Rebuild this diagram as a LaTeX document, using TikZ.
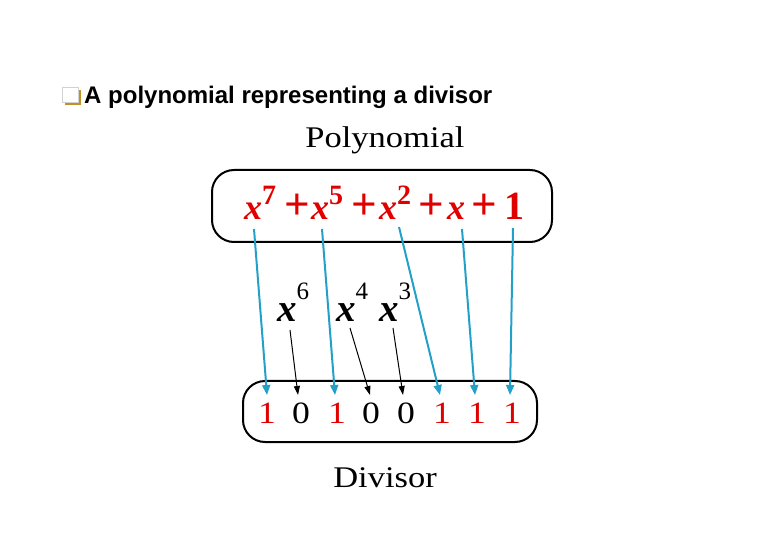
\documentclass[tikz,border=0pt]{standalone}
\usepackage{fontspec}
\setmainfont{Liberation Serif}[FakeStretch=1.15]
\newfontfamily\plainserif{Liberation Serif}
\newfontfamily\hdrfont{Liberation Sans}
\usetikzlibrary{arrows.meta}
\definecolor{polyred}{RGB}{225,0,0}
\definecolor{arrowblue}{RGB}{35,160,200}
\definecolor{bulletgold}{RGB}{195,145,35}
\newcommand\mysup[3]{\raisebox{#1}{\fontsize{#2}{#2}\selectfont\upshape #3}}
\tikzset{
  roundbox/.style={draw=black, line width=2pt, rounded corners=22pt, inner sep=0},
  term/.style={anchor=base west, inner sep=0, text=polyred, font=\plainserif\fontsize{36}{36}\selectfont\bfseries},
  plus/.style={anchor=base west, inner sep=0, text=polyred, font=\plainserif\fontsize{45}{45}\selectfont\bfseries},
  mono/.style={anchor=base west, inner sep=0, text=black, font=\plainserif\fontsize{39}{39}\selectfont\bfseries},
  digit/.style={anchor=base, inner sep=0, outer sep=0pt, font=\fontsize{31}{31}\selectfont},
  caption/.style={anchor=base, inner sep=0, font=\fontsize{30}{30}\selectfont},
  bluearrow/.style={draw=arrowblue, line width=2pt, -{Triangle[length=10pt,width=8pt]}},
  blackarrow/.style={draw=black, line width=1pt, -{Triangle[length=9pt,width=6pt]}}
}
\begin{document}
\begin{tikzpicture}[x=1pt,y=-1pt]
\useasboundingbox (0,0) rectangle (780,540);
% header
\fill[bulletgold] (65,90) rectangle (81,105);
\draw[fill=white, draw=gray!35, line width=0.6pt] (62,87) rectangle (78,102);
\node[anchor=base west, inner sep=0, font=\hdrfont\bfseries\fontsize{24}{24}\selectfont] (title) at (84,104) {A polynomial representing a divisor};
% captions
\node[caption] (polylabel) at (385,148) {Polynomial};
\node[caption] (divlabel) at (385,487) {Divisor};
% boxes
\node[roundbox, minimum width=340pt, minimum height=72pt] (topbox) at (382,206) {};
\node[roundbox, minimum width=294pt, minimum height=61pt] (botbox) at (390,411.5) {};
% polynomial terms
\node[term] (t7) at (244,220) {\textit{x}\mysup{15pt}{28}{7}};
\node[plus] (p1) at (284,220) {+};
\node[term] (t5) at (311,220) {\textit{x}\mysup{15pt}{28}{5}};
\node[plus] (p2) at (351,220) {+};
\node[term] (t2) at (379,220) {\textit{x}\mysup{15pt}{28}{2}};
\node[plus] (p3) at (418,220) {+};
\node[term] (t1) at (447,220) {\textit{x}};
\node[plus] (p4) at (471,220) {+};
\node[term] (t0) at (504,220) {\fontsize{40}{40}\selectfont 1};
% missing terms
\node[mono] (m6) at (277,322) {\textit{x}\mysup{22pt}{25}{\mdseries 6}};
\node[mono] (m4) at (336,322) {\textit{x}\mysup{22pt}{25}{\mdseries 4}};
\node[mono] (m3) at (379,322) {\textit{x}\mysup{22pt}{25}{\mdseries 3}};
% digits
\node[digit, text=polyred] (d7) at (267,423) {1};
\node[digit] (d6) at (301,423) {0};
\node[digit, text=polyred] (d5) at (337,423) {1};
\node[digit] (d4) at (371,423) {0};
\node[digit] (d3) at (406,423) {0};
\node[digit, text=polyred] (d2) at (442,423) {1};
\node[digit, text=polyred] (d1) at (477,423) {1};
\node[digit, text=polyred] (d0) at (512,423) {1};
% arrow anchors
\coordinate (s7) at (254,229);
\coordinate (s5) at (322,229);
\coordinate (s2) at (399,227);
\coordinate (s1) at (462,229);
\coordinate (s0) at (513,228);
\coordinate (e7) at (267,395);
\coordinate (e5) at (335,395);
\coordinate (e2) at (440,395);
\coordinate (e1) at (475,395);
\coordinate (e0) at (510,395);
\coordinate (b6) at (290,330);
\coordinate (b4) at (350,328);
\coordinate (b3) at (393,328);
\coordinate (f6) at (298,395);
\coordinate (f4) at (370,395);
\coordinate (f3) at (403,395);
% arrows
\draw[bluearrow] (s7) -- (e7);
\draw[bluearrow] (s5) -- (e5);
\draw[bluearrow] (s2) -- (e2);
\draw[bluearrow] (s1) -- (e1);
\draw[bluearrow] (s0) -- (e0);
\draw[blackarrow] (b6) -- (f6);
\draw[blackarrow] (b4) -- (f4);
\draw[blackarrow] (b3) -- (f3);
\end{tikzpicture}
\end{document}
